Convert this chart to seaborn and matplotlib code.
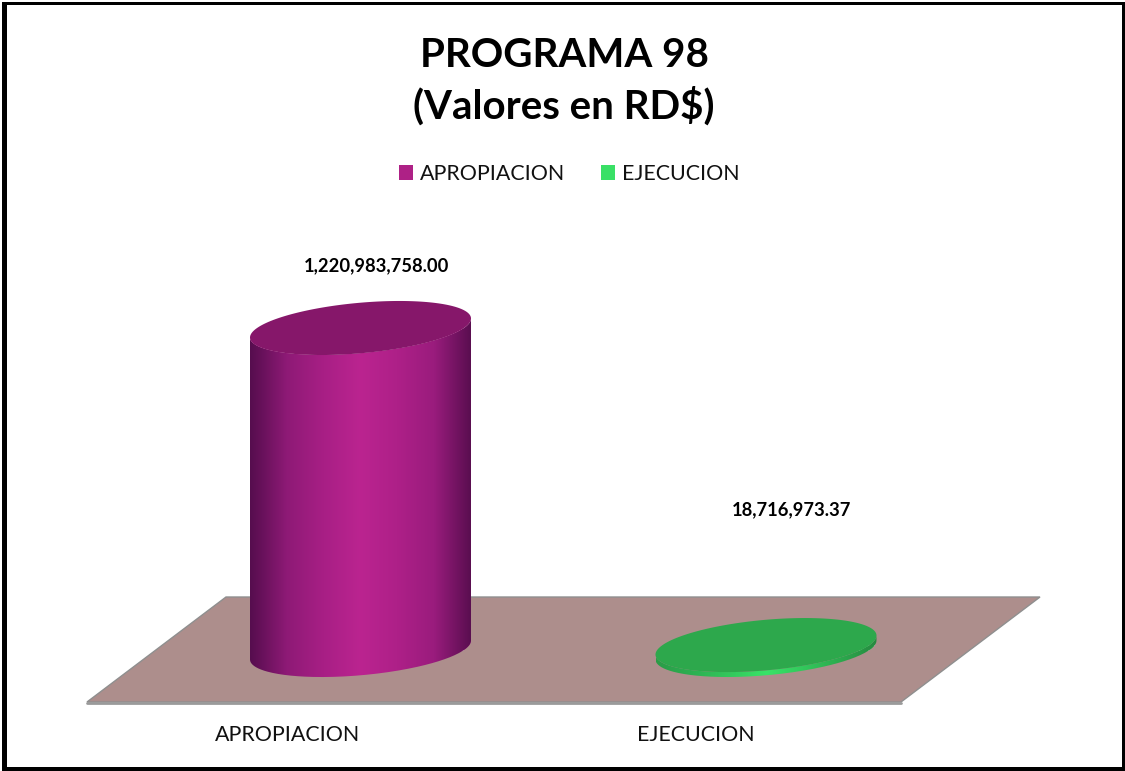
import numpy as np
import matplotlib
matplotlib.use("Agg")
import matplotlib.pyplot as plt
import seaborn as sns
from matplotlib.colors import LinearSegmentedColormap
from matplotlib.patches import Patch, PathPatch, Polygon, Rectangle
from matplotlib.path import Path
from matplotlib.transforms import Affine2D

# =========================================================
# DATA
# =========================================================
categorias = ["APROPIACION", "EJECUCION"]
valores = [1220983758.00, 18716973.37]
titulo = "PROGRAMA 98\n(Valores en RD$)"

colores = ["#AE2186", "#39E066"]
colores_tapa = ["#86176A", "#2DA84C"]
gradientes = [
    ["#560d4e", "#8e1a76", "#a81f85", "#bb2490", "#ae2088", "#9a1c7d", "#5a0e50"],
    ["#2a9c47", "#2db052", "#33c85c", "#39e468", "#33c85c", "#2caa4e", "#268a40"],
]

# =========================================================
# CONFIGURACION VISUAL
# =========================================================
sns.set_theme(style="white")
plt.rcParams['font.family'] = ['Lato', 'DejaVu Sans']

W, H = 1125, 771
fig = plt.figure(figsize=(W / 100, H / 100), dpi=100, facecolor="white")
ax = fig.add_axes([0, 0, 1, 1])

# pixeles de la imagen, con y hacia abajo
px = Affine2D().scale(1, -1).translate(0, H)

sns.barplot(
    x=categorias,
    y=valores,
    hue=categorias,
    palette=colores,
    legend=False,
    width=0.545,
    saturation=1,
    ax=ax,
)
barras = list(ax.patches)

# escalas: categorias en x = 360.5 y 766, base en y = 650
paso = 405.5
escala = 322 / valores[0]
ax.set_xlim(-360.5 / paso, (W - 360.5) / paso)
ax.set_ylim(-(H - 650) / escala, 650 / escala)
ax.axis("off")

# =========================================================
# PISO
# =========================================================
ax.add_patch(Polygon(
    [(87, 702), (226, 597), (1040, 597), (901, 702)],
    closed=True, transform=px, facecolor="#AD8E8C", edgecolor="#8f8f8f",
    linewidth=1.0, zorder=0.5,
))
ax.plot([87, 901], [703, 703], color="#9a9a9a", lw=2, transform=px, zorder=0.6)


# =========================================================
# CILINDROS
# =========================================================
def elipse(cx, cy, t):
    return np.column_stack([cx + 110.5 * np.cos(t), cy - 9.5 * np.cos(t) + 25.3 * np.sin(t)])


for i, barra in enumerate(barras):
    x0, w = barra.get_x(), barra.get_width()
    v = barra.get_height()
    cx, base = px.inverted().transform(ax.transData.transform((x0 + w / 2, 0)))
    _, tope = px.inverted().transform(ax.transData.transform((x0 + w / 2, v)))

    # costado: borde izquierdo, mitad inferior de la elipse base, borde derecho
    t_abajo = np.linspace(np.pi, 0, 160)
    abajo = elipse(cx, base, t_abajo)
    arriba = elipse(cx, tope, t_abajo[::-1])
    contorno = np.vstack([abajo, arriba])
    costado = PathPatch(Path(np.vstack([contorno, contorno[0]])), transform=px,
                        facecolor="none", edgecolor="none")
    ax.add_patch(costado)
    barra.set_clip_path(costado)

    cmap = LinearSegmentedColormap.from_list("g%d" % i, gradientes[i])
    img = ax.imshow(
        np.linspace(0, 1, 256).reshape(1, -1),
        cmap=cmap,
        aspect="auto",
        extent=[x0, x0 + w, -30 / escala, v + 30 / escala],
        zorder=2 + i,
    )
    img.set_clip_path(costado)

    t = np.linspace(0, 2 * np.pi, 240)
    ax.add_patch(Polygon(elipse(cx, tope, t), closed=True, transform=px,
                         facecolor=colores_tapa[i], edgecolor="none", zorder=3 + i))

ax.set_xlim(-360.5 / paso, (W - 360.5) / paso)
ax.set_ylim(-(H - 650) / escala, 650 / escala)

# =========================================================
# TEXTOS
# =========================================================
ax.text(564, 81, titulo, transform=px, ha="center", va="center", fontsize=29,
        fontweight="bold", color="black", linespacing=1.38)

etiquetas_pos = [(377, 266), (792, 510)]
for v, pos in zip(valores, etiquetas_pos):
    ax.text(pos[0], pos[1], f"{v:,.2f}", transform=px, ha="center", va="center",
            fontsize=13.2, fontweight="bold", color="black")

ejes_pos = [(288, 735), (696, 735)]
for cat, pos in zip(categorias, ejes_pos):
    ax.text(pos[0], pos[1], cat, transform=px, ha="center", va="center",
            fontsize=15.4, color="#111111")

manijas = [Patch(facecolor=c, edgecolor="none", label=n) for c, n in zip(colores, categorias)]
fig.legend(
    handles=manijas,
    ncol=2,
    loc="center",
    bbox_to_anchor=(569 / W, 1 - 174 / H),
    frameon=False,
    fontsize=15.4,
    handlelength=0.65,
    handleheight=0.65,
    handletextpad=0.33,
    columnspacing=1.67,
    labelcolor="#111111",
)

# marco negro
for r in [(2, 2, 1123, 2.5), (2, 2, 5, 769), (1122, 2, 3, 769), (2, 767, 1123, 4)]:
    ax.add_patch(Rectangle((r[0], r[1]), r[2], r[3], transform=px, facecolor="black",
                           edgecolor="none", zorder=10))

plt.savefig("out.png", dpi=100)
plt.close()
